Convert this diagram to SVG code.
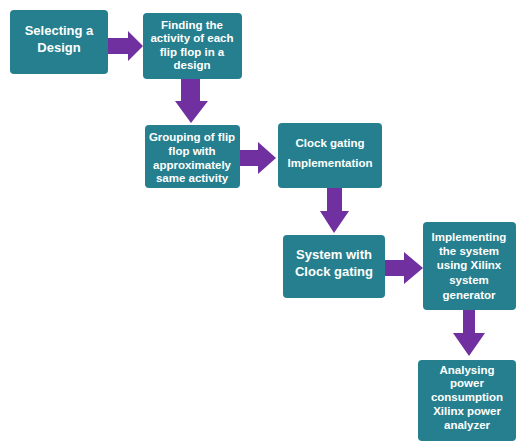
<svg xmlns="http://www.w3.org/2000/svg" width="518" height="443" viewBox="0 0 518 443">
<style>
.box{fill:#267f8e;}
.t{font-family:"Liberation Sans",Arial,sans-serif;font-weight:bold;font-size:11.5px;fill:#ffffff;text-anchor:middle;}
.t1{font-size:13px;}
.arr{fill:#7030a0;}
</style>
<rect width="518" height="443" fill="#ffffff"/>
<g id="connectors">
<polygon class="arr" points="107,38 128,38 128,31 143,46 128,61 128,54 107,54"/>
<polygon class="arr" points="181,79 200,79 200,101 208,101 191,123 175,101 181,101"/>
<polygon class="arr" points="240,150 258,150 258,142 276,158 258,174 258,166 240,166"/>
<polygon class="arr" points="327,188 342,188 342,211 349,211 334,233 320,211 327,211"/>
<polygon class="arr" points="385,260 404,260 404,252 423,268 404,284 404,276 385,276"/>
<polygon class="arr" points="463,310 475,310 475,333 485,333 469,356 453,333 463,333"/>
</g>
<g id="n1"><rect class="box" x="10" y="10" width="98" height="64" rx="4"/>
<text class="t t1" x="59" y="35">Selecting a</text><text class="t t1" x="59" y="52">Design</text></g>
<g id="n2"><rect class="box" x="143" y="13" width="99" height="66" rx="4"/>
<text class="t" x="192" y="29">Finding the</text><text class="t" x="192" y="42">activity of each</text><text class="t" x="192" y="56">flip flop in a</text><text class="t" x="192" y="69">design</text></g>
<g id="n3"><rect class="box" x="145" y="125" width="95" height="63" rx="4"/>
<text class="t" x="192" y="141">Grouping of flip</text><text class="t" x="192" y="155">flop with</text><text class="t" x="192" y="169">approximately</text><text class="t" x="192" y="182">same activity</text></g>
<g id="n4"><rect class="box" x="278" y="123" width="104" height="65" rx="4"/>
<text class="t" x="330" y="147">Clock gating</text><text class="t" x="330" y="167">Implementation</text></g>
<g id="n5"><rect class="box" x="283" y="235" width="102" height="63" rx="4"/>
<text class="t t1" x="334" y="259">System with</text><text class="t t1" x="334" y="276">Clock gating</text></g>
<g id="n6"><rect class="box" x="423" y="222" width="93" height="88" rx="4"/>
<text class="t" x="469" y="241">Implementing</text><text class="t" x="469" y="255">the system</text><text class="t" x="469" y="269">using Xilinx</text><text class="t" x="469" y="284">system</text><text class="t" x="469" y="299">generator</text></g>
<g id="n7"><rect class="box" x="418" y="360" width="98" height="81" rx="4"/>
<text class="t" x="467" y="374">Analysing</text><text class="t" x="467" y="387">power</text><text class="t" x="467" y="401">consumption</text><text class="t" x="467" y="415">Xilinx power</text><text class="t" x="467" y="429">analyzer</text></g>
</svg>
